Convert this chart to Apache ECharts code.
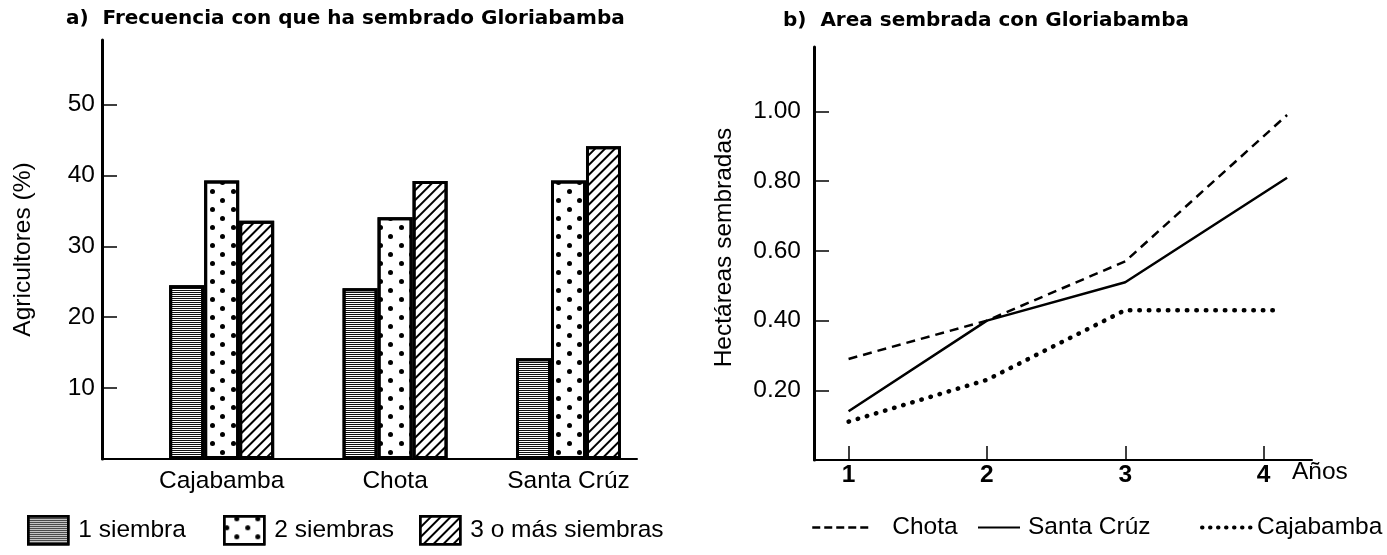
<!DOCTYPE html>
<html><head><meta charset="utf-8">
<script src="https://cdn.jsdelivr.net/npm/echarts@6/dist/echarts.min.js"></script>
<style>html,body{margin:0;padding:0;background:#fff}#c{width:1387px;height:555px}</style>
</head><body><div id="c"></div>
<script>
// ---- data: panel a ----
const regions = ['Cajabamba', 'Chota', 'Santa Crúz'];
const regionPos = [1, 2, 3];
const unaSiembra = [24.5, 24.1, 14.2];
const dosSiembras = [39.3, 34.1, 39.3];
const tresOMas = [33.6, 39.2, 44.1];
const pctTicks = [10, 20, 30, 40, 50];
// ---- data: panel b ----
const yearsX = [1, 2, 3, 4.17];
const cajaYearsX = [1, 2, 3, 4.12];
const chota = [0.29, 0.40, 0.57, 0.99];
const santaCruz = [0.14, 0.40, 0.51, 0.81];
const cajabamba = [0.11, 0.23, 0.43, 0.43];
const yearTicks = [1, 2, 3, 4];
const areaTicks = [0.2, 0.4, 0.6, 0.8, 1.0];

const FONT = 'Liberation Sans';
const TFONT = 'DejaVu Sans';
const FS = 24.5;
const pair = (xs, ys) => xs.map((x, i) => [x, ys[i]]);
const txt = (size, weight, family) => ({ fontFamily: family || FONT, fontSize: size, fontWeight: weight || 'normal', color: '#000' });

const barBase = { color: '#fff', borderColor: '#000', borderWidth: 3 };
const decalLines = { symbol: 'rect', symbolSize: 1, color: '#111', dashArrayX: [1, 0], dashArrayY: [1, 1] };
const decalDots = { symbol: 'circle', symbolSize: 1, color: '#000', dashArrayX: [[4.5, 15.5], [0, 10, 4.5, 5.5]], dashArrayY: [4.5, 4] };
const decalHatch = { symbol: 'rect', symbolSize: 1, color: '#000', dashArrayX: [1, 0], dashArrayY: [1.3, 4.2], rotation: -Math.PI / 4 };

const barLegend = (name, left) => ({
  left: left, top: 515, padding: 0, itemWidth: 40, itemHeight: 28, data: [name], icon: 'rect',
  textStyle: Object.assign(txt(FS), { padding: [0, 0, 0, 5] }),
  itemStyle: { borderColor: '#000', borderWidth: 2.5 }
});
const lineLegend = (name, left, w, lineStyle, pad) => ({
  left: left, top: 515, padding: 0, itemWidth: w, itemHeight: 28, data: [name],
  textStyle: Object.assign(txt(FS), { padding: [0, 0, 0, pad] }),
  itemStyle: { opacity: 0 },
  lineStyle: Object.assign({ color: '#000' }, lineStyle)
});

const chart = echarts.init(document.getElementById('c'), null, { renderer: 'canvas' });
chart.setOption({
  animation: false,
  backgroundColor: '#fff',
  textStyle: { fontFamily: FONT, color: '#000' },
  title: [
    { text: 'a)  Frecuencia con que ha sembrado Gloriabamba', left: 66, top: 9, padding: 0, textStyle: txt(20, 'bold', TFONT) },
    { text: 'b)  Area sembrada con Gloriabamba', left: 783, top: 11, padding: 0, textStyle: txt(20, 'bold', TFONT) }
  ],
  legend: [
    barLegend('1 siembra', 27),
    barLegend('2 siembras', 223),
    barLegend('3 o más siembras', 419),
    lineLegend('Chota', 811, 60, { type: [8, 4], width: 2.5 }, 15),
    lineLegend('Santa Crúz', 977, 42, { type: 'solid', width: 2 }, 3),
    lineLegend('Cajabamba', 1200, 50, { type: [0.5, 7.5], width: 4, cap: 'round' }, 0)
  ],
  grid: [
    { left: 102, top: 40, width: 535, height: 419 },
    { left: 814, top: 47, width: 498, height: 413 }
  ],
  xAxis: [
    { gridIndex: 0, type: 'value', min: 0.31, max: 3.395,
      axisLine: { show: true, lineStyle: { color: '#000', width: 2 } },
      axisTick: { show: false }, splitLine: { show: false },
      axisLabel: Object.assign({ customValues: regionPos, formatter: v => regions[regionPos.indexOf(v)] || '', margin: 10 }, txt(FS)) },
    { gridIndex: 1, type: 'value', min: 0.75, max: 4.35,
      name: 'Años', nameLocation: 'end', nameGap: -20,
      nameTextStyle: Object.assign({ verticalAlign: 'top', padding: [0, 0, 0, 0] }, txt(FS)),
      axisLine: { show: true, lineStyle: { color: '#000', width: 2 } },
      axisTick: { show: true, inside: true, length: 14, customValues: yearTicks, lineStyle: { color: '#000', width: 1.5 } },
      splitLine: { show: false },
      axisLabel: Object.assign({ customValues: yearTicks, margin: 3 }, txt(FS, 'bold')) }
  ],
  yAxis: [
    { gridIndex: 0, type: 'value', min: 0, max: 59.1,
      name: 'Agricultores (%)', nameLocation: 'middle', nameRotate: 90, nameGap: 66,
      nameTextStyle: txt(FS),
      axisLine: { show: true, lineStyle: { color: '#000', width: 3 } },
      axisTick: { show: true, inside: true, length: 15, customValues: pctTicks, lineStyle: { color: '#000', width: 1.5 } },
      splitLine: { show: false },
      axisLabel: Object.assign({ customValues: pctTicks, margin: 7 }, txt(FS)) },
    { gridIndex: 1, type: 'value', min: 0, max: 1.185,
      name: 'Hectáreas sembradas', nameLocation: 'middle', nameRotate: 90, nameGap: 77,
      nameTextStyle: Object.assign({ padding: [0, 0, 0, 12] }, txt(FS)),
      axisLine: { show: true, lineStyle: { color: '#000', width: 3 } },
      axisTick: { show: true, inside: true, length: 15, customValues: areaTicks, lineStyle: { color: '#000', width: 1.5 } },
      splitLine: { show: false },
      axisLabel: Object.assign({ customValues: areaTicks, formatter: v => v.toFixed(2), margin: 13 }, txt(FS)) }
  ],
  series: [
    { name: '1 siembra', type: 'bar', xAxisIndex: 0, yAxisIndex: 0, barWidth: 35, barGap: '0%',
      data: pair(regionPos, unaSiembra), itemStyle: Object.assign({ decal: decalLines }, barBase) },
    { name: '2 siembras', type: 'bar', xAxisIndex: 0, yAxisIndex: 0, barWidth: 35, barGap: '0%',
      data: pair(regionPos, dosSiembras), itemStyle: Object.assign({ decal: decalDots }, barBase) },
    { name: '3 o más siembras', type: 'bar', xAxisIndex: 0, yAxisIndex: 0, barWidth: 35, barGap: '0%',
      data: pair(regionPos, tresOMas), itemStyle: Object.assign({ decal: decalHatch }, barBase) },
    { name: 'Chota', type: 'line', xAxisIndex: 1, yAxisIndex: 1, symbol: 'none',
      data: pair(yearsX, chota), lineStyle: { color: '#000', width: 2.5, type: [9, 6] }, itemStyle: { color: '#000' } },
    { name: 'Santa Crúz', type: 'line', xAxisIndex: 1, yAxisIndex: 1, symbol: 'none',
      data: pair(yearsX, santaCruz), lineStyle: { color: '#000', width: 2.5 }, itemStyle: { color: '#000' } },
    { name: 'Cajabamba', type: 'line', xAxisIndex: 1, yAxisIndex: 1, symbol: 'none',
      data: pair(cajaYearsX, cajabamba), lineStyle: { color: '#000', width: 4.5, type: [0.5, 9], cap: 'round' }, itemStyle: { color: '#000' } }
  ]
});
</script></body></html>
